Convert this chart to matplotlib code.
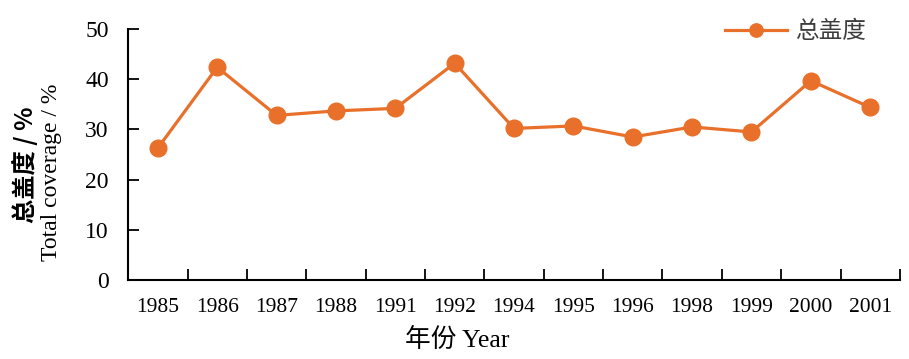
import matplotlib
matplotlib.use("Agg")
import matplotlib.pyplot as plt
from matplotlib.ticker import FixedLocator, MultipleLocator

years = ["1985", "1986", "1987", "1988", "1991", "1992", "1994",
         "1995", "1996", "1998", "1999", "2000", "2001"]
coverage = [26.3, 42.4, 32.8, 33.7, 34.2, 43.2, 30.2,
            30.7, 28.5, 30.5, 29.5, 39.7, 34.4]

orange = "#E8702A"
serif = ["Liberation Serif", "Noto Sans CJK SC"]
cjk = ["Noto Sans CJK SC", "Liberation Serif"]

fig = plt.figure(figsize=(9.09, 3.59), dpi=100)
ax = fig.add_axes([0.141, 0.22, 0.849, 0.699])

x = list(range(len(years)))
ax.plot(x, coverage, color=orange, lw=2.3, marker="o", ms=12,
        label="总盖度")

ax.set_xlim(-0.5, len(years) - 0.5)
ax.set_ylim(0, 50)
ax.yaxis.set_major_locator(MultipleLocator(10))
ax.xaxis.set_major_locator(FixedLocator([i + 0.5 for i in range(-1, len(years))]))
ax.set_xticklabels([])
ax.set_xticks(x, years, minor=True)
ax.tick_params(axis="x", which="major", direction="in", length=8, width=1.3)
ax.tick_params(axis="x", which="minor", length=0, pad=13, labelsize=15.5)
ax.tick_params(axis="y", direction="in", length=8, width=1.3, labelsize=17, pad=14)
for lab in ax.get_xticklabels(minor=True) + ax.get_yticklabels():
    lab.set_family(serif)

for s in ["top", "right"]:
    ax.spines[s].set_visible(False)
for s in ["left", "bottom"]:
    ax.spines[s].set_linewidth(1.5)

fig.text(0.503, 0.053, "年份 Year", ha="center", va="center",
         family=serif, fontsize=18.5)
fig.text(0.027, 0.54, "总盖度 / %", rotation=90, ha="center", va="center",
         family=cjk, fontsize=17.5, fontweight="bold")
fig.text(0.057, 0.52, "Total coverage / %", rotation=90, ha="center",
         va="center", family=serif, fontsize=17)

leg = ax.legend(loc="upper right", bbox_to_anchor=(0.985, 1.12), frameon=False,
                prop={"family": cjk, "size": 17}, handlelength=2.6,
                handletextpad=0.4, markerscale=0.8)
for t in leg.get_texts():
    t.set_color("#3c3c3c")

fig.savefig("out.png", dpi=100)
